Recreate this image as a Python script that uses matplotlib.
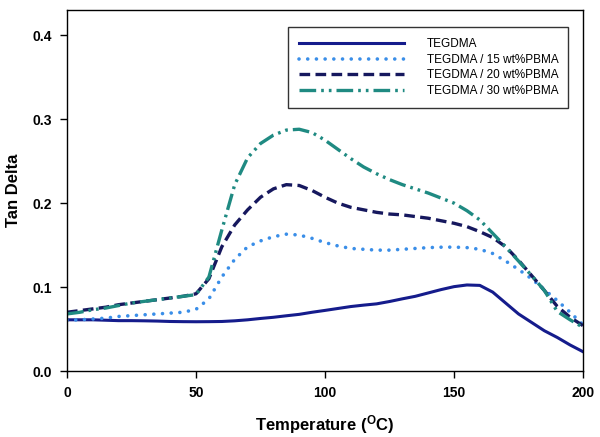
# encoding = utf-8
import matplotlib
matplotlib.use("Agg")
import matplotlib.pyplot as plt

# temperature grid (degC) and tan delta values
temp = [0, 5, 10, 15, 20, 25, 30, 35, 40, 45, 50, 55, 60, 65, 70, 75, 80, 85, 90, 95,
        100, 105, 110, 115, 120, 125, 130, 135, 140, 145, 150, 155, 160, 165, 170,
        175, 180, 185, 190, 195, 200]

tegdma = [0.061, 0.061, 0.061, 0.0605, 0.060, 0.060, 0.0598, 0.0595, 0.059, 0.0588,
          0.0587, 0.0588, 0.059, 0.0598, 0.061, 0.0626, 0.064, 0.0658, 0.0675, 0.070,
          0.0722, 0.0745, 0.0768, 0.0785, 0.080, 0.0828, 0.086, 0.089, 0.093, 0.097,
          0.1005, 0.1025, 0.102, 0.094, 0.081, 0.068, 0.058, 0.048, 0.040, 0.031, 0.023]

pbma15 = [0.0605, 0.061, 0.062, 0.063, 0.065, 0.066, 0.067, 0.068, 0.069, 0.070,
          0.0735, 0.086, 0.112, 0.133, 0.148, 0.155, 0.160, 0.163, 0.162, 0.158,
          0.153, 0.149, 0.146, 0.145, 0.144, 0.144, 0.145, 0.146, 0.147, 0.1475,
          0.1476, 0.147, 0.145, 0.140, 0.131, 0.121, 0.110, 0.097, 0.084, 0.070, 0.055]

pbma20 = [0.070, 0.072, 0.074, 0.076, 0.079, 0.081, 0.083, 0.085, 0.087, 0.089,
          0.092, 0.110, 0.148, 0.174, 0.192, 0.207, 0.217, 0.222, 0.221, 0.215,
          0.207, 0.200, 0.195, 0.192, 0.189, 0.187, 0.186, 0.184, 0.182, 0.179,
          0.176, 0.172, 0.166, 0.159, 0.148, 0.132, 0.114, 0.096, 0.077, 0.064, 0.054]

pbma30 = [0.068, 0.070, 0.073, 0.075, 0.078, 0.081, 0.083, 0.085, 0.087, 0.089,
          0.091, 0.112, 0.168, 0.222, 0.254, 0.271, 0.281, 0.287, 0.288, 0.284,
          0.275, 0.264, 0.253, 0.243, 0.235, 0.228, 0.222, 0.217, 0.212, 0.206,
          0.200, 0.191, 0.180, 0.164, 0.148, 0.131, 0.114, 0.096, 0.071, 0.061, 0.052]

labels = ["TEGDMA", "TEGDMA / 15 wt%PBMA", "TEGDMA / 20 wt%PBMA", "TEGDMA / 30 wt%PBMA"]
x_ticks = [0, 50, 100, 150, 200]
y_ticks = [0.0, 0.1, 0.2, 0.3, 0.4]


def main():
    plt.rcParams["font.family"] = ["Liberation Sans", "DejaVu Sans"]
    plt.rcParams["mathtext.fontset"] = "custom"
    plt.rcParams["mathtext.rm"] = "Liberation Sans:bold"
    plt.rcParams["mathtext.it"] = "Liberation Sans:bold"
    plt.rcParams["mathtext.bf"] = "Liberation Sans:bold"
    fig = plt.figure(figsize=(6.0, 4.37), dpi=100)
    ax = fig.add_axes([0.1117, 0.151, 0.86, 0.826])

    ax.plot(temp, tegdma, color="#151c8c", linewidth=2.2, linestyle="-", label=labels[0])
    ax.plot(temp, pbma15, color="#3a8ee8", linewidth=2.6, linestyle=(0, (0.01, 2.4)),
            dash_capstyle="round", label=labels[1])
    ax.plot(temp, pbma20, color="#16185e", linewidth=2.4, linestyle=(0, (3.2, 1.6)),
            label=labels[2])
    ax.plot(temp, pbma30, color="#1f8a82", linewidth=2.4,
            linestyle=(0, (5, 1.5, 0.8, 1.5, 0.8, 1.5)), label=labels[3])

    ax.set_xlim(0, 200)
    ax.set_ylim(0, 0.43)
    ax.set_xticks(x_ticks)
    ax.set_xticklabels([str(t) for t in x_ticks])
    ax.set_yticks(y_ticks)
    ax.set_yticklabels(["%.1f" % t for t in y_ticks])

    ax.tick_params(direction="out", length=5, width=1, labelsize=10, pad=6)
    for label in ax.get_xticklabels() + ax.get_yticklabels():
        label.set_fontweight("bold")
    for sp in ax.spines.values():
        sp.set_linewidth(1)

    ax.set_xlabel(r"Temperature ($^{\mathrm{O}}$C)", fontsize=12, fontweight="bold", labelpad=9)
    ax.set_ylabel("Tan Delta", fontsize=12, fontweight="bold", labelpad=8)

    leg = ax.legend(loc="upper left", bbox_to_anchor=(0.428, 0.953, 0.543, 0.0), mode="expand",
                    fontsize=8.5, frameon=True, fancybox=False, handlelength=8.9,
                    handletextpad=1.95, labelspacing=0.3, borderpad=0.95, borderaxespad=0)
    leg.get_frame().set_edgecolor("black")
    leg.get_frame().set_linewidth(1)

    fig.savefig("out.png", dpi=100)


if __name__ == '__main__':
    main()
